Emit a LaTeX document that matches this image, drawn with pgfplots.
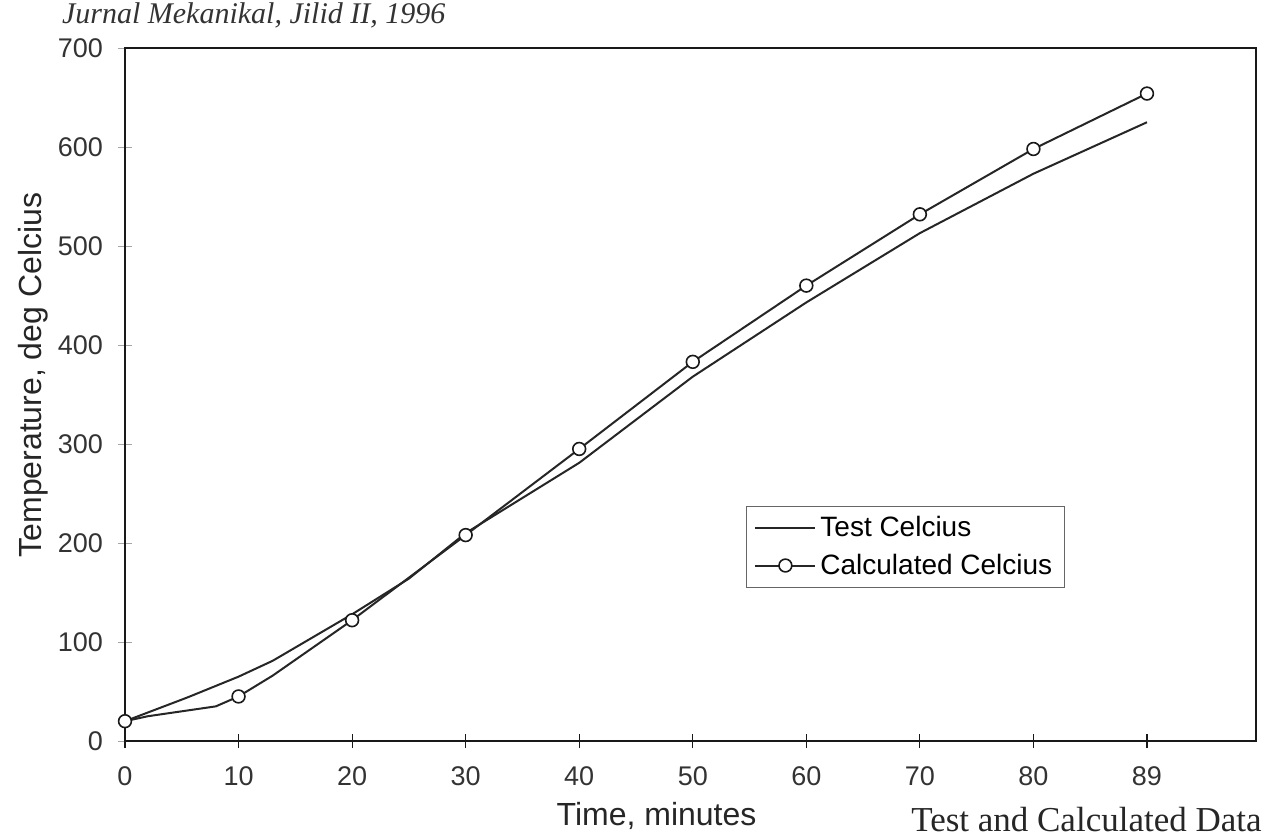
\documentclass[border=0pt]{standalone}
\usepackage{pgfplots}
\pgfplotsset{compat=1.18}
\usepackage{fontspec}
\setmainfont{Liberation Sans}
\newfontfamily\serifit{Liberation Serif}
\begin{document}
\begin{tikzpicture}
\useasboundingbox (-62.5pt,-48pt) rectangle (575pt,370.5pt);
\begin{axis}[
  at={(0pt,0pt)}, anchor=south west,
  scale only axis, width=565.5pt, height=346.5pt,
  xmin=0, xmax=99.6, ymin=0, ymax=700,
  xtick={0,10,...,90}, xticklabels={0,10,20,30,40,50,60,70,80,89},
  ytick={0,100,...,700},
  axis line style={black!90, line width=0.9pt},
  tick align=center, major tick length=7pt,
  xtick pos=bottom, ytick pos=left,
  x tick style={black!90, line width=0.6pt},
  y tick style={black!35, line width=0.5pt},
  /pgf/number format/assume math mode=true,
  ticklabel style={font=\fontsize{13.5}{16}\selectfont, text=black!80},
  xticklabel style={yshift=-6pt},
  yticklabel style={xshift=-4pt},
  xlabel={Time, minutes}, ylabel={Temperature, deg Celcius},
  every axis x label/.style={at={(axis description cs:0.47,-0.108)}, anchor=center,
    font=\fontsize{16}{19}\selectfont, text=black!85},
  every axis y label/.style={at={(axis description cs:-0.081,0.528)}, rotate=90, anchor=center,
    font=\fontsize{16}{19}\selectfont, text=black!85},
  legend style={at={(axis description cs:0.549,0.339)}, anchor=north west,
    draw=black!60, line width=0.5pt, font=\fontsize{14}{17}\selectfont,
    inner xsep=4pt, inner ysep=3pt, row sep=3pt, cells={anchor=west}},
  legend image code/.code={\draw[#1] (0pt,0pt) -- (30pt,0pt);},
]
\addplot[black!85, line width=1pt] coordinates {
  (0,20) (5.5,44) (10,65) (13,81) (20,128) (25,164) (30,210) (40,281)
  (50,368) (60,443) (70,513) (80,573) (90,625)};
\addlegendentry{Test Celcius}
\addplot[black!85, line width=1pt, mark=*, mark size=3.2pt,
  mark options={fill=white, draw=black!90, line width=0.8pt},
  mark indices={1,4,6,7,8,9,10,11,12,13},
  legend image code/.code={\draw[black!85,line width=1pt] (0pt,0pt) -- (30pt,0pt);
    \draw[black!90, fill=white, line width=0.8pt] (15pt,0pt) circle[radius=3.2pt];}]
  coordinates {
  (0,20) (2,25) (8,35) (10,45) (13,66) (20,122) (30,208) (40,295)
  (50,383) (60,460) (70,532) (80,598) (90,654)};
\addlegendentry{Calculated Celcius}
\end{axis}
\node[anchor=base west, font=\serifit\itshape\fontsize{15}{17}\selectfont, text=black!80]
  at (-35pt,358.5pt) {Jurnal Mekanikal, Jilid II, 1996};
\node[anchor=base east, inner sep=0pt, font=\serifit\fontsize{17.5}{20}\selectfont, text=black!85]
  at (568.5pt,-45pt) {Test and Calculated Data};
\end{tikzpicture}
\end{document}
